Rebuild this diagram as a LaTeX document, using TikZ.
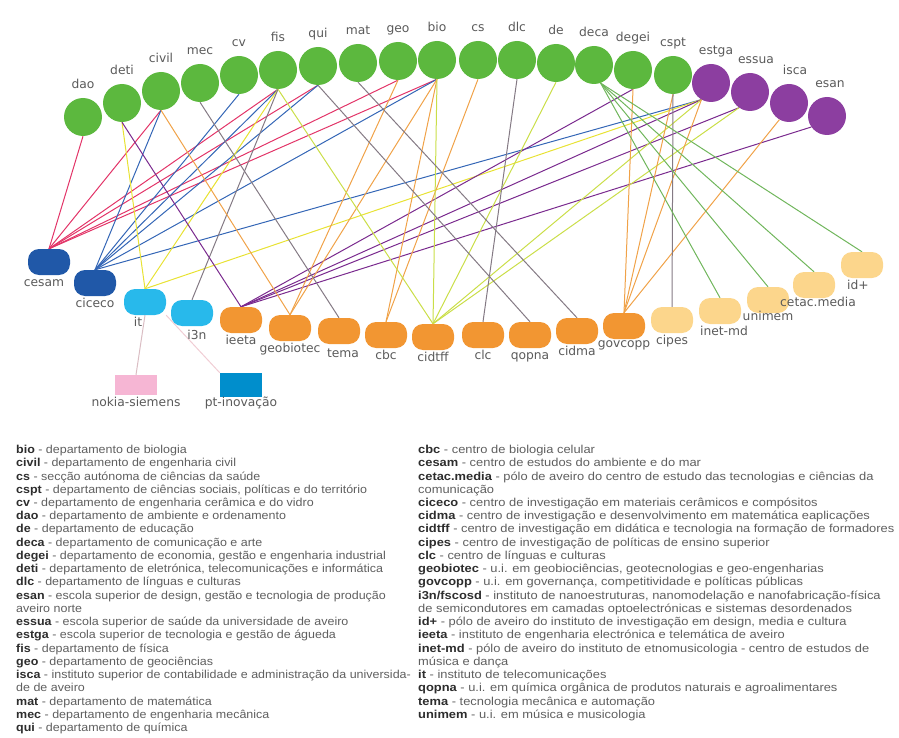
\documentclass[tikz,border=0pt]{standalone}
\usepackage{fontspec}
\setmainfont{Liberation Sans}
\newfontfamily\legfont[FakeStretch=1.12]{Liberation Sans}
\newfontfamily\leftlegfont[FakeStretch=1.085]{Liberation Sans}
\newfontfamily\lblfont{DejaVu Sans}
\usetikzlibrary{backgrounds}

\definecolor{deptgreen}{RGB}{92,184,62}
\definecolor{schoolpurple}{RGB}{140,62,160}
\definecolor{unitnavy}{RGB}{32,88,168}
\definecolor{unitcyan}{RGB}{40,185,235}
\definecolor{unitorange}{RGB}{242,150,50}
\definecolor{unitpeach}{RGB}{252,214,140}
\definecolor{nokiapink}{RGB}{246,182,212}
\definecolor{ptblue}{RGB}{0,142,204}
\definecolor{lblgray}{RGB}{90,90,90}
\definecolor{keygray}{RGB}{45,45,45}
\definecolor{descgray}{RGB}{95,95,95}
\definecolor{lnred}{RGB}{226,52,104}
\definecolor{lnblue}{RGB}{52,102,182}
\definecolor{lnyellow}{RGB}{232,226,52}
\definecolor{lngray}{RGB}{132,122,132}
\definecolor{lnpurple}{RGB}{122,42,142}
\definecolor{lnorange}{RGB}{240,162,72}
\definecolor{lnlime}{RGB}{202,222,72}
\definecolor{lngreen}{RGB}{112,182,92}
\definecolor{lnpink}{RGB}{240,205,212}

\newcommand\legitem[2]{{\bfseries\color{keygray}#1} - #2}

\tikzset{
  dept/.style={circle, fill=deptgreen, minimum size=38pt, inner sep=0pt},
  school/.style={circle, fill=schoolpurple, minimum size=38pt, inner sep=0pt},
  unit/.style={rounded corners=11pt, minimum width=42pt, minimum height=26pt, inner sep=0pt},
  lbl/.style={font=\lblfont\fontsize{12.3}{14}\selectfont, text=lblgray, text height=1.5ex, text depth=.25ex},
  toplbl/.style={label={[lbl,label distance=4pt]above:#1}},
  botlbl/.style={label={[lbl,label distance=0pt]below:#1}},
  link/.style={line width=1pt},
  ered/.style={link, lnred},
  eblue/.style={link, lnblue},
  eyel/.style={link, lnyellow},
  egray/.style={link, lngray},
  epur/.style={link, lnpurple},
  eora/.style={link, lnorange},
  elime/.style={link, lnlime},
  egrn/.style={link, lngreen},
  legend/.style={anchor=north west, inner sep=0pt, align=left, text=descgray,
    font=\legfont\fontsize{11.5}{13.24}\selectfont}
}

\begin{document}
\begin{tikzpicture}[x=1pt,y=-1pt]
\useasboundingbox (0,0) rectangle (899,738);

% departments
\node[dept, toplbl=dao] (dao) at (83,117) {};
\node[dept, toplbl=deti] (deti) at (122,103) {};
\node[dept, toplbl=civil] (civil) at (161,91) {};
\node[dept, toplbl=mec] (mec) at (200,83) {};
\node[dept, toplbl=cv] (cv) at (239,75) {};
\node[dept, toplbl=fis] (fis) at (278,70) {};
\node[dept, toplbl=qui] (qui) at (318,66) {};
\node[dept, toplbl=mat] (mat) at (358,63) {};
\node[dept, toplbl=geo] (geo) at (398,61) {};
\node[dept, toplbl=bio] (bio) at (437,60) {};
\node[dept, toplbl=cs] (cs) at (478,60) {};
\node[dept, toplbl=dlc] (dlc) at (517,60) {};
\node[dept, toplbl=de] (de) at (556,63) {};
\node[dept, toplbl=deca] (deca) at (594,65) {};
\node[dept, toplbl=degei] (degei) at (633,70) {};
\node[dept, toplbl=cspt] (cspt) at (673,75) {};

% schools
\node[school, label={[lbl,label distance=4pt,xshift=5pt]above:estga}] (estga) at (711,83) {};
\node[school, label={[lbl,label distance=4pt,xshift=6pt]above:essua}] (essua) at (750,92) {};
\node[school, label={[lbl,label distance=4pt,xshift=6pt]above:isca}] (isca) at (789,103) {};
\node[school, label={[lbl,label distance=4pt,xshift=3pt]above:esan}] (esan) at (827,116) {};

% research units
\node[unit, fill=unitnavy, label={[lbl,xshift=-5pt]below:cesam}] (cesam) at (49,262) {};
\node[unit, fill=unitnavy, botlbl=ciceco] (ciceco) at (95,283) {};
\node[unit, fill=unitcyan, label={[lbl,xshift=-7pt]below:it}] (it) at (145,302) {};
\node[unit, fill=unitcyan, label={[lbl,xshift=5pt,label distance=2pt]below:i3n}] (i3n) at (192,313) {};
\node[unit, fill=unitorange, botlbl=ieeta] (ieeta) at (241,320) {};
\node[unit, fill=unitorange, botlbl=geobiotec] (geobiotec) at (290,328) {};
\node[unit, fill=unitorange, label={[lbl,xshift=4pt,label distance=2pt]below:tema}] (tema) at (339,331) {};
\node[unit, fill=unitorange, botlbl=cbc] (cbc) at (386,335) {};
\node[unit, fill=unitorange, botlbl=cidtff] (cidtff) at (433,337) {};
\node[unit, fill=unitorange, botlbl=clc] (clc) at (483,335) {};
\node[unit, fill=unitorange, botlbl=qopna] (qopna) at (530,335) {};
\node[unit, fill=unitorange, botlbl=cidma] (cidma) at (577,331) {};
\node[unit, fill=unitorange, label={[lbl,label distance=-3pt]below:govcopp}] (govcopp) at (624,326) {};
\node[unit, fill=unitpeach, botlbl=cipes] (cipes) at (672,320) {};
\node[unit, fill=unitpeach, label={[lbl,xshift=4pt]below:inet-md}] (inet-md) at (720,311) {};
\node[unit, fill=unitpeach, label={[lbl,label distance=-4pt]below:unimem}] (unimem) at (768,300) {};
\node[unit, fill=unitpeach, label={[lbl,xshift=4pt,label distance=-3pt]below:cetac.media}] (cetac) at (814,285) {};
\node[unit, fill=unitpeach, label={[lbl,xshift=-4pt]below:id+}] (idplus) at (862,265) {};

% partners of it
\node[fill=nokiapink, minimum width=42pt, minimum height=20pt, inner sep=0pt, botlbl=nokia-siemens] (nokia) at (136,385) {};
\node[fill=ptblue, minimum width=42pt, minimum height=24pt, inner sep=0pt, label={[lbl,label distance=-2pt]below:pt-inovação}] (ptinov) at (241,385) {};

\begin{scope}[on background layer]
\foreach \s in {dao,civil,fis,qui,geo,bio}
  \draw[ered] (\s.south) -- (cesam.north);
\foreach \s in {civil.south,cv.south,fis.south,qui.south,bio.south,estga.240}
  \draw[eblue] (\s) -- (ciceco.north);
\foreach \s in {deti.south,fis.south,estga.240}
  \draw[eyel] (\s) -- (it.north);
\draw[egray] (fis.south) -- (i3n.north);
\foreach \s in {deti.south,degei.south,estga.240,essua.235,esan.215}
  \draw[epur] (\s) -- (ieeta.north);
\foreach \s in {civil,geo,bio}
  \draw[eora] (\s.south) -- (geobiotec.north);
\draw[egray] (mec.south) -- (tema.north);
\foreach \s in {cs,bio}
  \draw[eora] (\s.south) -- (cbc.north);
\foreach \s in {fis.south,bio.south,de.south,estga.240,essua.235}
  \draw[elime] (\s) -- (cidtff.north);
\draw[egray] (dlc.south) -- (clc.north);
\draw[egray] (qui.south) -- (qopna.north);
\draw[egray] (mat.south) -- (cidma.north);
\foreach \s in {degei.south,cspt.south,estga.240,isca.240}
  \draw[eora] (\s) -- (govcopp.north);
\draw[egray] (cspt.south) -- (cipes.north);
\foreach \t in {inet-md,unimem,cetac,idplus}
  \draw[egrn] (deca.-70) -- (\t.north);
\draw[link, lnpink!80!gray] (it.south) -- (nokia.north);
\draw[link, lnpink] (it.south east) -- (ptinov.north west);
\end{scope}

% legend
\node[legend, font=\leftlegfont\fontsize{11.5}{13.24}\selectfont] (leftkey) at (16,445) {%
\legitem{bio}{departamento de biologia}\\
\legitem{civil}{departamento de engenharia civil}\\
\legitem{cs}{secção autónoma de ciências da saúde}\\
\legitem{cspt}{departamento de ciências sociais, políticas e do território}\\
\legitem{cv}{departamento de engenharia cerâmica e do vidro}\\
\legitem{dao}{departamento de ambiente e ordenamento}\\
\legitem{de}{departamento de educação}\\
\legitem{deca}{departamento de comunicação e arte}\\
\legitem{degei}{departamento de economia, gestão e engenharia industrial}\\
\legitem{deti}{departamento de eletrónica, telecomunicações e informática}\\
\legitem{dlc}{departamento de línguas e culturas}\\
\legitem{esan}{escola superior de design, gestão e tecnologia de produção}\\
aveiro norte\\
\legitem{essua}{escola superior de saúde da universidade de aveiro}\\
\legitem{estga}{escola superior de tecnologia e gestão de águeda}\\
\legitem{fis}{departamento de física}\\
\legitem{geo}{departamento de geociências}\\
\legitem{isca}{instituto superior de contabilidade e administração da universida-}\\
de de aveiro\\
\legitem{mat}{departamento de matemática}\\
\legitem{mec}{departamento de engenharia mecânica}\\
\legitem{qui}{departamento de química}};

\node[legend] (rightkey) at (418,445) {%
\legitem{cbc}{centro de biologia celular}\\
\legitem{cesam}{centro de estudos do ambiente e do mar}\\
\legitem{cetac.media}{pólo de aveiro do centro de estudo das tecnologias e ciências da}\\
comunicação\\
\legitem{ciceco}{centro de investigação em materiais cerâmicos e compósitos}\\
\legitem{cidma}{centro de investigação e desenvolvimento em matemática eaplicações}\\
\legitem{cidtff}{centro de investigação em didática e tecnologia na formação de formadores}\\
\legitem{cipes}{centro de investigação de políticas de ensino superior}\\
\legitem{clc}{centro de línguas e culturas}\\
\legitem{geobiotec}{u.i. em geobiociências, geotecnologias e geo-engenharias}\\
\legitem{govcopp}{u.i. em governança, competitividade e políticas públicas}\\
\legitem{i3n/fscosd}{instituto de nanoestruturas, nanomodelação e nanofabricação-física}\\
de semicondutores em camadas optoelectrónicas e sistemas desordenados\\
\legitem{id+}{pólo de aveiro do instituto de investigação em design, media e cultura}\\
\legitem{ieeta}{instituto de engenharia electrónica e telemática de aveiro}\\
\legitem{inet-md}{pólo de aveiro do instituto de etnomusicologia - centro de estudos de}\\
música e dança\\
\legitem{it}{instituto de telecomunicações}\\
\legitem{qopna}{u.i. em química orgânica de produtos naturais e agroalimentares}\\
\legitem{tema}{tecnologia mecânica e automação}\\
\legitem{unimem}{u.i. em música e musicologia}};
\end{tikzpicture}
\end{document}
